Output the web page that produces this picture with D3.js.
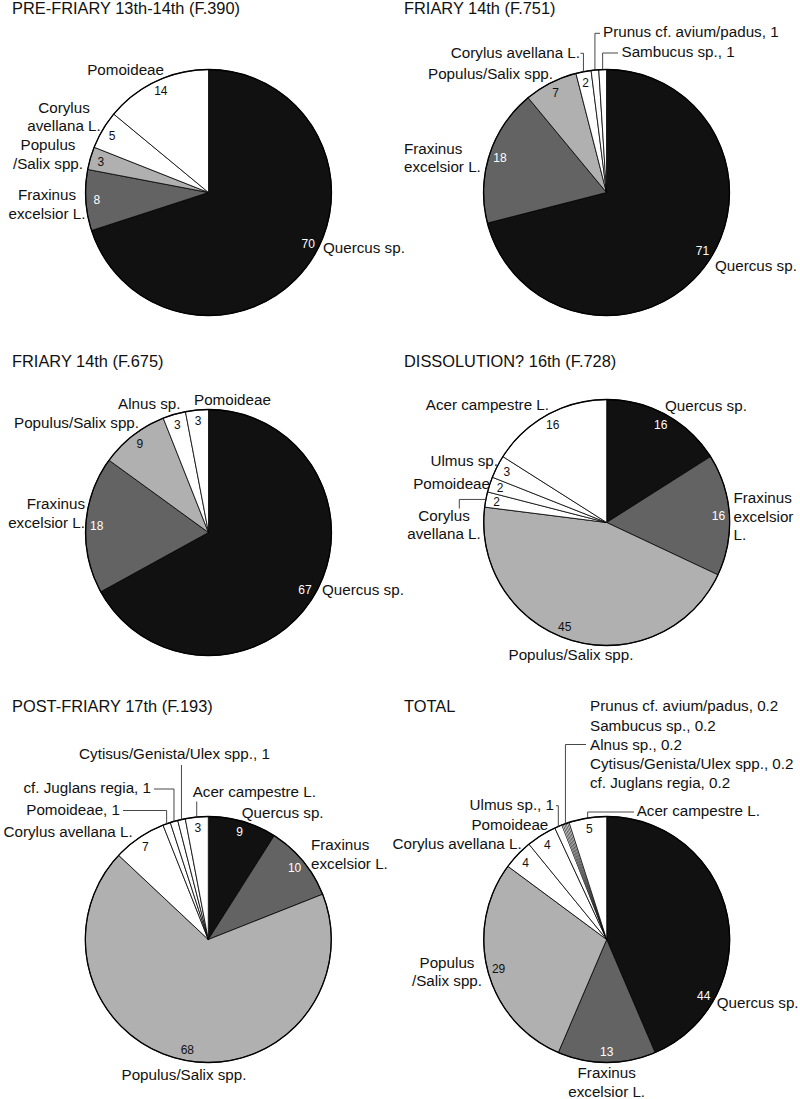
<!DOCTYPE html>
<html>
<head>
<meta charset="utf-8">
<script src="https://cdn.jsdelivr.net/npm/d3@7/dist/d3.min.js"></script>
<style>
  body { margin: 0; background: #fff; }
  svg text { font-family: "Liberation Sans", Arial, sans-serif; fill: #111; }
  .title { font-size: 16.4px; }
  .cat { font-size: 15.2px; }
  .val { font-size: 12px; }
</style>
</head>
<body>
<svg id="chart" width="800" height="1099"></svg>
<script>
// slices run clockwise from 12 o'clock, in this order
const titles = ["PRE-FRIARY 13th-14th (F.390)", "FRIARY 14th (F.751)", "FRIARY 14th (F.675)",
  "DISSOLUTION? 16th (F.728)", "POST-FRIARY 17th (F.193)", "TOTAL"];

const preFriaryNames = ["Quercus sp.", "Fraxinus excelsior L.", "Populus/Salix spp.", "Corylus avellana L.", "Pomoideae"];
const preFriaryValues = [70, 8, 3, 5, 14];

const friary751Names = ["Quercus sp.", "Fraxinus excelsior L.", "Populus/Salix spp.", "Corylus avellana L.",
  "Prunus cf. avium/padus", "Sambucus sp."];
const friary751Values = [71, 18, 7, 2, 1, 1];

const friary675Names = ["Quercus sp.", "Fraxinus excelsior L.", "Populus/Salix spp.", "Alnus sp.", "Pomoideae"];
const friary675Values = [67, 18, 9, 3, 3];

const dissolutionNames = ["Quercus sp.", "Fraxinus excelsior L.", "Populus/Salix spp.", "Corylus avellana L.",
  "Pomoideae", "Ulmus sp.", "Acer campestre L."];
const dissolutionValues = [16, 16, 45, 2, 2, 3, 16];

const postFriaryNames = ["Quercus sp.", "Fraxinus excelsior L.", "Populus/Salix spp.", "Corylus avellana L.",
  "Pomoideae", "cf. Juglans regia", "Cytisus/Genista/Ulex spp.", "Acer campestre L."];
const postFriaryValues = [9, 10, 68, 7, 1, 1, 1, 3];

const totalNames = ["Quercus sp.", "Fraxinus excelsior L.", "Populus/Salix spp.", "Corylus avellana L.",
  "Pomoideae", "Ulmus sp.", "cf. Juglans regia", "Cytisus/Genista/Ulex spp.", "Alnus sp.", "Sambucus sp.",
  "Prunus cf. avium/padus", "Acer campestre L."];
const totalValues = [44, 13, 29, 4, 4, 1, 0.2, 0.2, 0.2, 0.2, 0.2, 5];

const fills = {"Quercus sp.": "#111111", "Fraxinus excelsior L.": "#636363", "Populus/Salix spp.": "#b0b0b0"};
function fillOf(name) { return fills[name] || "#ffffff"; }

const R = 123;
const LH = 18.5;

// label placement (Excel-style manual layout)
// t: text lines, a: anchor, lead: leader line ("v" = up from slice then across, "h" = across then down)
const panels = [
  { title: titles[0], tx: 12, ty: 14, cx: 208.5, cy: 192.5, names: preFriaryNames, values: preFriaryValues,
    valueAngle: {"Quercus sp.": 117},
    labels: {
      "Quercus sp.": {x: 323, y: 253, a: "start"},
      "Fraxinus excelsior L.": {x: 47, y: 200, a: "middle", t: ["Fraxinus", "excelsior L."]},
      "Populus/Salix spp.": {x: 48, y: 150, a: "middle", t: ["Populus", "/Salix spp."]},
      "Corylus avellana L.": {x: 64, y: 112.5, a: "middle", t: ["Corylus", "avellana L."]},
      "Pomoideae": {x: 164, y: 75, a: "end"}
    }},
  { title: titles[1], tx: 404, ty: 14, cx: 606.5, cy: 192.5, names: friary751Names, values: friary751Values,
    valueAngle: {"Quercus sp.": 121},
    labels: {
      "Quercus sp.": {x: 715, y: 271, a: "start"},
      "Fraxinus excelsior L.": {x: 404, y: 153.5, a: "start", t: ["Fraxinus", "excelsior L."]},
      "Populus/Salix spp.": {x: 553, y: 79, a: "end"},
      "Corylus avellana L.": {x: 580, y: 58, a: "end", lead: "v", lx: 580.5, ly: 53.3},
      "Prunus cf. avium/padus": {x: 603, y: 37, a: "start", withValue: true, lead: "v", lx: 600, ly: 33.3},
      "Sambucus sp.": {x: 621.5, y: 57, a: "start", withValue: true, lead: "v", lx: 618, ly: 53}
    }},
  { title: titles[2], tx: 12, ty: 367, cx: 208.5, cy: 532.5, names: friary675Names, values: friary675Values,
    valueAngle: {},
    labels: {
      "Quercus sp.": {x: 322, y: 594.5, a: "start"},
      "Fraxinus excelsior L.": {x: 85, y: 509, a: "end", t: ["Fraxinus", "excelsior L."]},
      "Populus/Salix spp.": {x: 139, y: 427.5, a: "end"},
      "Alnus sp.": {x: 180.5, y: 409, a: "end"},
      "Pomoideae": {x: 194, y: 405, a: "start"}
    }},
  { title: titles[3], tx: 404, ty: 367, cx: 606.7, cy: 522.5, names: dissolutionNames, values: dissolutionValues,
    valueAngle: {"Populus/Salix spp.": 202},
    labels: {
      "Quercus sp.": {x: 665, y: 411, a: "start"},
      "Fraxinus excelsior L.": {x: 733.5, y: 503, a: "start", t: ["Fraxinus", "excelsior", "L."]},
      "Populus/Salix spp.": {x: 571, y: 660, a: "middle"},
      "Corylus avellana L.": {x: 444, y: 520.5, a: "middle", t: ["Corylus", "avellana L."], lead: "h", lx: 459.3, ly: 508.5},
      "Pomoideae": {x: 490, y: 488.5, a: "end"},
      "Ulmus sp.": {x: 498, y: 466, a: "end"},
      "Acer campestre L.": {x: 549, y: 410, a: "end"}
    }},
  { title: titles[4], tx: 12, ty: 712, cx: 208.3, cy: 939.5, names: postFriaryNames, values: postFriaryValues,
    valueAngle: {},
    labels: {
      "Quercus sp.": {x: 241.7, y: 818, a: "start"},
      "Fraxinus excelsior L.": {x: 311, y: 850, a: "start", t: ["Fraxinus", "excelsior L."]},
      "Populus/Salix spp.": {x: 184, y: 1080, a: "middle"},
      "Corylus avellana L.": {x: 132.7, y: 837, a: "end"},
      "Pomoideae": {x: 120, y: 814.5, a: "end", withValue: true, lead: "v", lx: 123, ly: 810.5},
      "cf. Juglans regia": {x: 151, y: 793, a: "end", withValue: true, lead: "v", lx: 154, ly: 789},
      "Cytisus/Genista/Ulex spp.": {x: 174.5, y: 758.5, a: "middle", withValue: true, lead: "v", ly: 765},
      "Acer campestre L.": {x: 192.7, y: 797, a: "start", lead: "v", ly: 801.5}
    }},
  { title: titles[5], tx: 404, ty: 712, cx: 606.7, cy: 939.5, names: totalNames, values: totalValues,
    valueAngle: {"Quercus sp.": 120},
    labels: {
      "Quercus sp.": {x: 716.7, y: 1008, a: "start"},
      "Fraxinus excelsior L.": {x: 606.7, y: 1078, a: "middle", t: ["Fraxinus", "excelsior L."]},
      "Populus/Salix spp.": {x: 447, y: 967.5, a: "middle", t: ["Populus", "/Salix spp."]},
      "Corylus avellana L.": {x: 521.7, y: 848.5, a: "end"},
      "Pomoideae": {x: 548.3, y: 830, a: "end"},
      "Ulmus sp.": {x: 554, y: 810, a: "end", withValue: true, lead: "v", lx: 556, ly: 805.7},
      "Prunus cf. avium/padus": {x: 590, y: 711, a: "start", withValue: true},
      "Sambucus sp.": {x: 590, y: 730.5, a: "start", withValue: true},
      "Alnus sp.": {x: 590, y: 749.5, a: "start", withValue: true, lead: "v", lx: 586, ly: 744.5},
      "Cytisus/Genista/Ulex spp.": {x: 590, y: 769, a: "start", withValue: true},
      "cf. Juglans regia": {x: 590, y: 788, a: "start", withValue: true},
      "Acer campestre L.": {x: 636.7, y: 816, a: "start", lead: "v", lx: 634, ly: 812}
    }}
];

const svg = d3.select("#chart");
const pie = d3.pie().sort(null).value(d => d.value);
const arc = d3.arc().innerRadius(0).outerRadius(R);
const valArc = d3.arc().innerRadius(112).outerRadius(112);

function edgePoint(d) {
  const a = (d.startAngle + d.endAngle) / 2;
  return [R * Math.sin(a), -R * Math.cos(a)];
}

panels.forEach(p => {
  svg.append("text").attr("class", "title")
    .attr("x", p.tx).attr("y", p.ty).text(p.title);

  const rows = p.names.map((n, i) => ({name: n, value: p.values[i]}));
  const arcs = pie(rows);
  const g = svg.append("g").attr("transform", "translate(" + p.cx + "," + p.cy + ")");

  g.selectAll("path.slice")
    .data(arcs)
    .enter().append("path")
    .attr("class", "slice")
    .attr("d", arc)
    .attr("fill", d => fillOf(d.data.name))
    .attr("stroke", "#000")
    .attr("stroke-width", d => d.data.value < 0.5 ? 0.5 : 0.8)
    .attr("stroke-linejoin", "round");

  g.append("circle").attr("r", R)
    .attr("fill", "none").attr("stroke", "#000").attr("stroke-width", 1.3);

  // values inside the slices
  arcs.forEach(d => {
    const lab = p.labels[d.data.name] || {};
    if (lab.withValue) return;
    let pos;
    if (p.valueAngle[d.data.name] !== undefined) {
      const a = p.valueAngle[d.data.name] * Math.PI / 180;
      pos = [112 * Math.sin(a), -112 * Math.cos(a)];
    } else {
      pos = valArc.centroid(d);
    }
    const f = fillOf(d.data.name);
    g.append("text").attr("class", "val")
      .attr("x", pos[0]).attr("y", pos[1]).attr("dy", "0.36em")
      .attr("text-anchor", "middle")
      .style("fill", (f === "#111111" || f === "#636363") ? "#fff" : "#111")
      .text(d.data.value);
  });

  // category labels and leader lines
  arcs.forEach(d => {
    const lab = p.labels[d.data.name];
    if (!lab) return;
    const lines = lab.t || [d.data.name + (lab.withValue ? ", " + d.data.value : "")];
    const txt = svg.append("text").attr("class", "cat").attr("text-anchor", lab.a);
    lines.forEach((ln, k) => {
      txt.append("tspan").attr("x", lab.x).attr("y", lab.y + k * LH).text(ln);
    });
    if (lab.lead) {
      const e = edgePoint(d);
      const ex = p.cx + e[0], ey = p.cy + e[1];
      let pts;
      if (lab.lead === "v") {
        const lx = lab.lx !== undefined ? lab.lx : ex;
        pts = [[ex, ey], [ex, lab.ly], [lx, lab.ly]];
      } else {
        pts = [[ex, ey], [lab.lx, ey], [lab.lx, lab.ly]];
      }
      svg.append("path")
        .attr("d", d3.line()(pts))
        .attr("fill", "none").attr("stroke", "#333").attr("stroke-width", 0.9);
    }
  });
});
</script>
</body>
</html>
